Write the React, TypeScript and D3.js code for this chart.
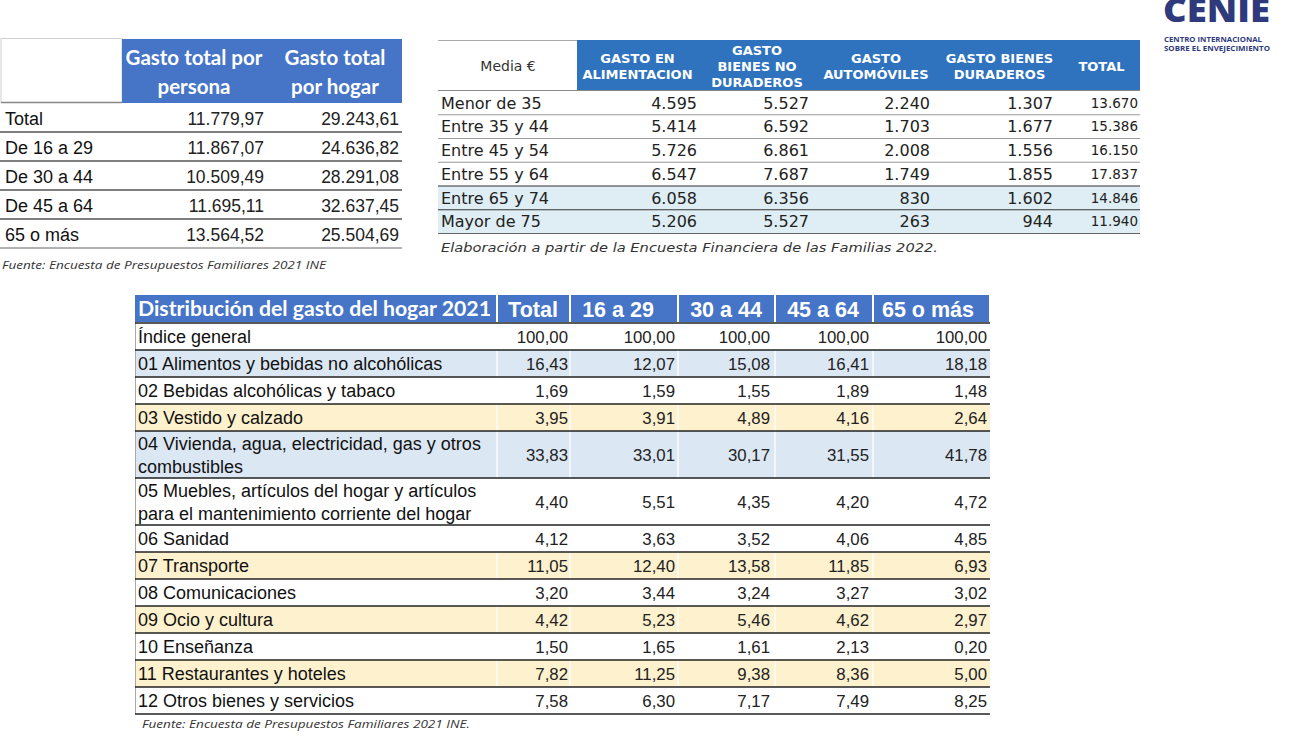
import React from "react";
import * as d3 from "d3";

// ---------- DATA ----------
const ageGroups1 = ["Total", "De 16 a 29", "De 30 a 44", "De 45 a 64", "65 o más"];
const headers1 = [["Gasto total por", "persona"], ["Gasto total", "por hogar"]];
const gastoPersona = [11779.97, 11867.07, 10509.49, 11695.11, 13564.52];
const gastoHogar = [29243.61, 24636.82, 28291.08, 32637.45, 25504.69];
const source1 = "Fuente: Encuesta de Presupuestos Familiares 2021 INE";

const ageGroups2 = ["Menor de 35", "Entre 35 y 44", "Entre 45 y 54", "Entre 55 y 64", "Entre 65 y 74", "Mayor de 75"];
const corner2 = "Media €";
const headers2 = [["GASTO EN", "ALIMENTACION"], ["GASTO", "BIENES NO", "DURADEROS"], ["GASTO", "AUTOMÓVILES"], ["GASTO BIENES", "DURADEROS"], ["TOTAL"]];
const alimentacion = [4595, 5414, 5726, 6547, 6058, 5206];
const noDuraderos = [5527, 6592, 6861, 7687, 6356, 5527];
const automoviles = [2240, 1703, 2008, 1749, 830, 263];
const duraderos = [1307, 1677, 1556, 1855, 1602, 944];
const total2 = [13670, 15386, 16150, 17837, 14846, 11940];
const source2 = "Elaboración a partir de la Encuesta Financiera de las Familias 2022.";

const headers3 = ["Distribución del gasto del hogar 2021", "Total", "16 a 29", "30 a 44", "45 a 64", "65 o más"];
const categories3 = [
  ["Índice general"],
  ["01 Alimentos y bebidas no alcohólicas"],
  ["02 Bebidas alcohólicas y tabaco"],
  ["03 Vestido y calzado"],
  ["04 Vivienda, agua, electricidad, gas y otros", "combustibles"],
  ["05 Muebles, artículos del hogar y artículos", "para el mantenimiento corriente del hogar"],
  ["06 Sanidad"],
  ["07 Transporte"],
  ["08 Comunicaciones"],
  ["09 Ocio y cultura"],
  ["10 Enseñanza"],
  ["11 Restaurantes y hoteles"],
  ["12 Otros bienes y servicios"],
];
const distTotal = [100, 16.43, 1.69, 3.95, 33.83, 4.4, 4.12, 11.05, 3.2, 4.42, 1.5, 7.82, 7.58];
const dist16a29 = [100, 12.07, 1.59, 3.91, 33.01, 5.51, 3.63, 12.4, 3.44, 5.23, 1.65, 11.25, 6.3];
const dist30a44 = [100, 15.08, 1.55, 4.89, 30.17, 4.35, 3.52, 13.58, 3.24, 5.46, 1.61, 9.38, 7.17];
const dist45a64 = [100, 16.41, 1.89, 4.16, 31.55, 4.2, 4.06, 11.85, 3.27, 4.62, 2.13, 8.36, 7.49];
const dist65 = [100, 18.18, 1.48, 2.64, 41.78, 4.72, 4.85, 6.93, 3.02, 2.97, 0.2, 5.0, 8.25];
const source3 = "Fuente: Encuesta de Presupuestos Familiares 2021 INE.";

const logoTitle = "CENIE";
const logoSub = ["CENTRO INTERNACIONAL", "SOBRE EL ENVEJECIMIENTO"];

// ---------- STYLE ----------
const es = d3.formatLocale({ decimal: ",", thousands: ".", grouping: [3], currency: ["", "€"] });
const fmt2 = es.format(",.2f");
const fmt0 = es.format(",d");

const ARIAL = "'Liberation Sans', Arial, sans-serif";
const VERDANA = "'DejaVu Sans', Verdana, sans-serif";
const CALIBRI = "Lato, 'Open Sans', sans-serif";
const BLUE1 = "#4675C8";
const BLUE2 = "#2F73BF";
const LIGHTBLUE2 = "#DFEEF4";
const LIGHTBLUE3 = "#DCE7F4";
const YELLOW3 = "#FDF1CE";
const NAVY = "#2E3A7B";
const rowFill3: Record<number, string> = { 1: LIGHTBLUE3, 3: YELLOW3, 4: LIGHTBLUE3, 7: YELLOW3, 9: YELLOW3, 11: YELLOW3 };

function Table1() {
  const y = d3.scaleBand<string>().domain(ageGroups1).range([103, 248]);
  const colEdges = [0, 122, 262, 402];
  const valRight = [264, 399];
  const cols = [gastoPersona, gastoHogar];
  return (
    <g>
      <rect x={1} y={38.5} width={121} height={64} fill="#fff" stroke="#cfcfcf" strokeWidth={1} />
      <line x1={1} x2={122} y1={102.5} y2={102.5} stroke="#888" strokeWidth={1.5} />
      <rect x={colEdges[1]} y={39} width={colEdges[3] - colEdges[1]} height={64} fill={BLUE1} />
      {headers1.map((lines, i) => {
        const cx = i === 0 ? 194 : 335;
        return lines.map((t, j) => (
          <text key={i + "-" + j} x={cx} y={58 + j * 29} dy="0.36em" textAnchor="middle" fill="#fff"
            fontFamily={CALIBRI} fontWeight={700} fontSize={20.5}>{t}</text>
        ));
      })}
      {ageGroups1.map((g, i) => {
        const top = y(g)!;
        const bw = y.bandwidth();
        return (
          <g key={g}>
            <text x={5} y={top + bw / 2 + 1} dy="0.36em" fontFamily={ARIAL} fontSize={18} fill="#111">{g}</text>
            {cols.map((c, k) => (
              <text key={k} x={valRight[k]} y={top + bw / 2 + 1} dy="0.36em" textAnchor="end" fontFamily={ARIAL} fontSize={17.5} fill="#222">{fmt2(c[i])}</text>
            ))}
            <line x1={0} x2={402} y1={top + bw} y2={top + bw} stroke={i === ageGroups1.length - 1 ? "#999" : "#555"} strokeWidth={1.3} />
          </g>
        );
      })}
      <text x={2} y={265} dy="0.35em" fontFamily="'Open Sans', sans-serif" fontStyle="italic" fontSize={11.5} fill="#333"
        textLength={324} lengthAdjust="spacingAndGlyphs">{source1}</text>
    </g>
  );
}

function Table2() {
  const y = d3.scaleBand<string>().domain(ageGroups2).range([91, 233.5]);
  const edges = [438, 577, 698, 816, 936, 1063, 1140];
  const valRight = [697, 809, 930, 1053, 1138];
  const cols = [alimentacion, noDuraderos, automoviles, duraderos, total2];
  const lineColors = ["#999", "#999", "#999", "#333", "#333", "#666"];
  return (
    <g>
      <line x1={438} x2={577} y1={40.5} y2={40.5} stroke="#aaa" strokeWidth={1} />
      <text x={508} y={66} dy="0.36em" textAnchor="middle" fontFamily={VERDANA} fontSize={14} fill="#333">{corner2}</text>
      <rect x={edges[1]} y={40} width={edges[6] - edges[1]} height={50} fill={BLUE2} />
      {headers2.map((lines, i) => {
        const cx = (edges[i + 1] + edges[i + 2]) / 2;
        const n = lines.length;
        return lines.map((t, j) => (
          <text key={i + "-" + j} x={cx} y={66 + (j - (n - 1) / 2) * 16} dy="0.36em" textAnchor="middle" fill="#fff"
            fontFamily={VERDANA} fontWeight={700} fontSize={13}>{t}</text>
        ));
      })}
      <line x1={438} x2={1140} y1={90.5} y2={90.5} stroke="#888" strokeWidth={1} />
      {ageGroups2.map((g, i) => {
        const top = y(g)!;
        const bw = y.bandwidth();
        return (
          <g key={g}>
            {i >= 4 && <rect x={438} y={top} width={1140 - 438} height={bw} fill={LIGHTBLUE2} />}
          </g>
        );
      })}
      {ageGroups2.map((g, i) => {
        const top = y(g)!;
        const bw = y.bandwidth();
        const cy = top + bw / 2;
        return (
          <g key={g}>
            <text x={441} y={cy} dy="0.36em" fontFamily={VERDANA} fontSize={16} fill="#222">{g}</text>
            {cols.map((c, k) => (
              <text key={k} x={valRight[k]} y={cy} dy="0.36em" textAnchor="end" fontFamily={VERDANA}
                fontSize={k === 4 ? 13.5 : 16} fill="#222">{fmt0(c[i])}</text>
            ))}
            <line x1={438} x2={1140} y1={top + bw} y2={top + bw} stroke={lineColors[i]} strokeWidth={1.2} />
          </g>
        );
      })}
      <text x={441} y={247} dy="0.36em" fontFamily={VERDANA} fontStyle="italic" fontSize={13} fill="#333"
        textLength={497} lengthAdjust="spacingAndGlyphs">{source2}</text>
    </g>
  );
}

function Table3() {
  const edges = [135, 497, 570, 678, 775, 873, 990];
  const valRight = [568, 675, 770, 869, 987];
  const cols = [distTotal, dist16a29, dist30a44, dist45a64, dist65];
  const heights = categories3.map((c) => (c.length === 1 ? 27 : 47));
  const tops = [0, ...d3.cumsum(heights)];
  const yScale = d3.scaleLinear().domain([0, d3.sum(heights)]).range([323, 323 + d3.sum(heights)]);
  const headerTop = 295;
  const headerBottom = 322;
  const headerCenters = [0, 533, 618, 726, 823, 928];
  return (
    <g>
      {headers3.map((h, i) => (
        <rect key={"hr" + i} x={edges[i] + (i === 0 ? 0 : 1)} y={headerTop} width={edges[i + 1] - edges[i] - (i === 0 ? 1 : 2)} height={headerBottom - headerTop} fill={BLUE1} />
      ))}
      <text x={138} y={309} dy="0.36em" fill="#fff" fontFamily={CALIBRI} fontWeight={700} fontSize={20}
        textLength={353} lengthAdjust="spacingAndGlyphs">{headers3[0]}</text>
      {headers3.slice(1).map((h, i) => (
        <text key={h} x={headerCenters[i + 1]} y={309} dy="0.36em" textAnchor="middle" fill="#fff" fontFamily={ARIAL} fontWeight={700} fontSize={21.5}>{h}</text>
      ))}
      {categories3.map((c, i) => {
        const top = yScale(tops[i]);
        const bottom = yScale(tops[i + 1]);
        const fill = rowFill3[i];
        return (
          <g key={"bg" + i}>
            {fill && <rect x={135} y={top} width={990 - 135} height={bottom - top} fill={fill} />}
            {fill && edges.slice(1, 6).map((ex, k) => (
              <line key={k} x1={ex} x2={ex} y1={top} y2={bottom} stroke="#fff" strokeWidth={1.5} opacity={0.9} />
            ))}
          </g>
        );
      })}
      <line x1={135.5} x2={135.5} y1={322} y2={yScale(tops[tops.length - 1])} stroke="#aaa" strokeWidth={1} />
      {categories3.map((c, i) => {
        const top = yScale(tops[i]);
        const bottom = yScale(tops[i + 1]);
        const mid = (top + bottom) / 2;
        return (
          <g key={"r" + i}>
            {c.map((t, j) => (
              <text key={j} x={138} y={c.length === 1 ? mid : top + 13 + j * 23} dy="0.36em" fontFamily={ARIAL} fontSize={18} fill="#111">{t}</text>
            ))}
            {cols.map((col, k) => (
              <text key={k} x={valRight[k]} y={mid} dy="0.36em" textAnchor="end" fontFamily={ARIAL} fontSize={16.8} fill="#222">{fmt2(col[i])}</text>
            ))}
            <line x1={135} x2={990} y1={top} y2={top} stroke="#222" strokeWidth={1.4} />
            {i === categories3.length - 1 && <line x1={135} x2={990} y1={bottom} y2={bottom} stroke="#222" strokeWidth={1.4} />}
          </g>
        );
      })}
      <text x={142} y={724} dy="0.35em" fontFamily="'Open Sans', sans-serif" fontStyle="italic" fontSize={11.5} fill="#333"
        textLength={328} lengthAdjust="spacingAndGlyphs">{source3}</text>
    </g>
  );
}

function Logo() {
  return (
    <g fill={NAVY}>
      <text x={1163} y={22} fontFamily="'Open Sans', sans-serif" fontWeight={800} fontSize={34} textLength={107} lengthAdjust="spacingAndGlyphs">{logoTitle}</text>
      {logoSub.map((s, i) => (
        <text key={s} x={1164} y={42 + i * 9} fontFamily="'Open Sans', sans-serif" fontWeight={700} fontSize={7.5}
          textLength={i === 0 ? 98 : 106} lengthAdjust="spacingAndGlyphs">{s}</text>
      ))}
    </g>
  );
}

export default function App() {
  return (
    <svg width={1296} height={748} style={{ position: "absolute", left: 0, top: 0, background: "#fff" }}>
      <rect x={0} y={0} width={1296} height={748} fill="#fff" />
      <Table1 />
      <Table2 />
      <Table3 />
      <Logo />
    </svg>
  );
}
